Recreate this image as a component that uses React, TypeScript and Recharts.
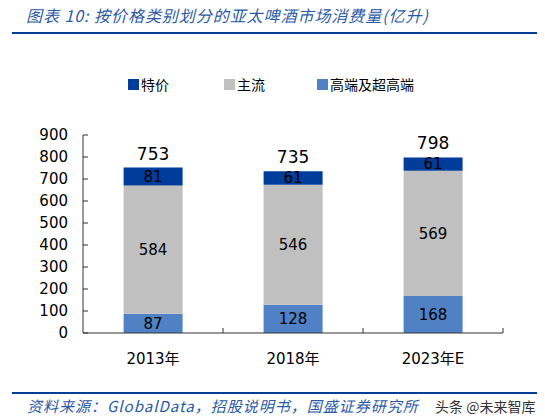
import React from "react";
import { BarChart, Bar, XAxis, YAxis, LabelList, Legend } from "recharts";

// ── data ─────────────────────────────────────────────
const years = ["2013年", "2018年", "2023年E"];
const premium = [87, 128, 168];     // 高端及超高端
const mainstream = [584, 546, 569]; // 主流
const value = [81, 61, 61];         // 特价
const totals = [753, 735, 798];
const yTicks = [0, 100, 200, 300, 400, 500, 600, 700, 800, 900];

const data = years.map((y, i) => ({
  year: y,
  premium: premium[i],
  mainstream: mainstream[i],
  value: value[i],
  total: totals[i],
}));

const legendItems = [
  { name: "特价", color: "#003d9a" },
  { name: "主流", color: "#c0c0c0" },
  { name: "高端及超高端", color: "#4f81c4" },
];

const NUM_FONT = "'DejaVu Sans', Verdana, sans-serif";
const CJK_FONT = "'Noto Sans CJK SC', sans-serif";

function YTick({ x, y, payload }: any) {
  return (
    <g>
      <line x1={x} x2={x + 5} y1={y} y2={y} stroke="#333" strokeWidth={1} />
      <text x={x - 15} y={y} dy={5} textAnchor="end" fontSize={15} fill="#000" fontFamily={NUM_FONT}>
        {payload.value}
      </text>
    </g>
  );
}

function XTick({ x, y, payload }: any) {
  const label = String(payload.value);
  const m = label.match(/^(\d+)(年)(E?)$/);
  return (
    <g>
      <line x1={x + 70} x2={x + 70} y1={y - 5} y2={y} stroke="#333" strokeWidth={1} />
      <text x={x} y={y + 31} textAnchor="middle" fontSize={15} fill="#000" fontFamily={NUM_FONT}>
        {m ? (
          <>
            <tspan>{m[1]}</tspan>
            <tspan fontFamily={CJK_FONT}>{m[2]}</tspan>
            <tspan>{m[3]}</tspan>
          </>
        ) : label}
      </text>
    </g>
  );
}

function TotalLabel({ x, y, width, index }: any) {
  return (
    <text x={x + width / 2} y={y - 8} textAnchor="middle" fontSize={17} fill="#000" fontFamily={NUM_FONT}>
      {totals[index]}
    </text>
  );
}

function LegendContent() {
  return (
    <div style={{ display: "flex", fontFamily: CJK_FONT, fontSize: 14, color: "#000" }}>
      {legendItems.map((it, i) => (
        <div key={it.name} style={{ display: "flex", alignItems: "center", marginLeft: i === 0 ? 128 : i === 1 ? 55 : 52 }}>
          <span style={{ width: 11, height: 11, background: it.color, display: "inline-block", marginRight: 2 }} />
          <span>{it.name}</span>
        </div>
      ))}
    </div>
  );
}

const innerLabel = { fontSize: 15, fill: "#000", fontFamily: NUM_FONT };

export default function App() {
  return (
    <div style={{ position: "absolute", left: 0, top: 0, width: 545, height: 416, background: "#fff", overflow: "hidden" }}>
      {/* title */}
      <div style={{
        position: "absolute", left: 26, top: 3, fontSize: 16, fontStyle: "italic",
        color: "#2b5aa6", fontFamily: CJK_FONT, whiteSpace: "nowrap", letterSpacing: 0.95,
      }}>
        图表 10: 按价格类别划分的亚太啤酒市场消费量(亿升)
      </div>
      <div style={{ position: "absolute", left: 12, top: 32, width: 525, height: 2, background: "#003d94" }} />

      <BarChart
        width={545}
        height={416}
        data={data}
        margin={{ top: 115, right: 42, left: 23, bottom: 53 }}
        barCategoryGap="29%"
      >
        <XAxis
          dataKey="year"
          tickSize={0}
          tickMargin={0}
          tickLine={false}
          axisLine={{ stroke: "#333" }}
          tick={<XTick />}
          height={30}
        />
        <YAxis
          domain={[0, 900]}
          ticks={yTicks}
          interval={0}
          tickSize={0}
          tickMargin={0}
          tickLine={false}
          axisLine={{ stroke: "#333" }}
          tick={<YTick />}
          width={60}
        />
        <Legend
          verticalAlign="top"
          align="left"
          wrapperStyle={{ position: "absolute", top: 74, left: 0, width: 545 }}
          content={<LegendContent />}
        />
        <Bar dataKey="premium" stackId="a" fill="#4f81c4" isAnimationActive={false}>
          <LabelList dataKey="premium" position="center" style={innerLabel} />
        </Bar>
        <Bar dataKey="mainstream" stackId="a" fill="#c0c0c0" isAnimationActive={false}>
          <LabelList dataKey="mainstream" position="center" style={innerLabel} />
        </Bar>
        <Bar dataKey="value" stackId="a" fill="#003d9a" isAnimationActive={false}>
          <LabelList dataKey="value" position="center" style={innerLabel} />
          <LabelList dataKey="total" content={<TotalLabel />} />
        </Bar>
      </BarChart>

      {/* footer */}
      <div style={{ position: "absolute", left: 12, top: 392, width: 525, height: 2, background: "#003d94" }} />
      <div style={{
        position: "absolute", left: 27, top: 395, fontSize: 15, fontStyle: "italic",
        color: "#2b5aa6", fontFamily: CJK_FONT, whiteSpace: "nowrap", letterSpacing: 1.0,
      }}>
        资料来源：GlobalData，招股说明书，国盛证券研究所
      </div>
      <div style={{
        position: "absolute", left: 435, top: 396, fontSize: 14,
        color: "#333", fontFamily: CJK_FONT, whiteSpace: "nowrap",
      }}>
        头条 @未来智库
      </div>
    </div>
  );
}
